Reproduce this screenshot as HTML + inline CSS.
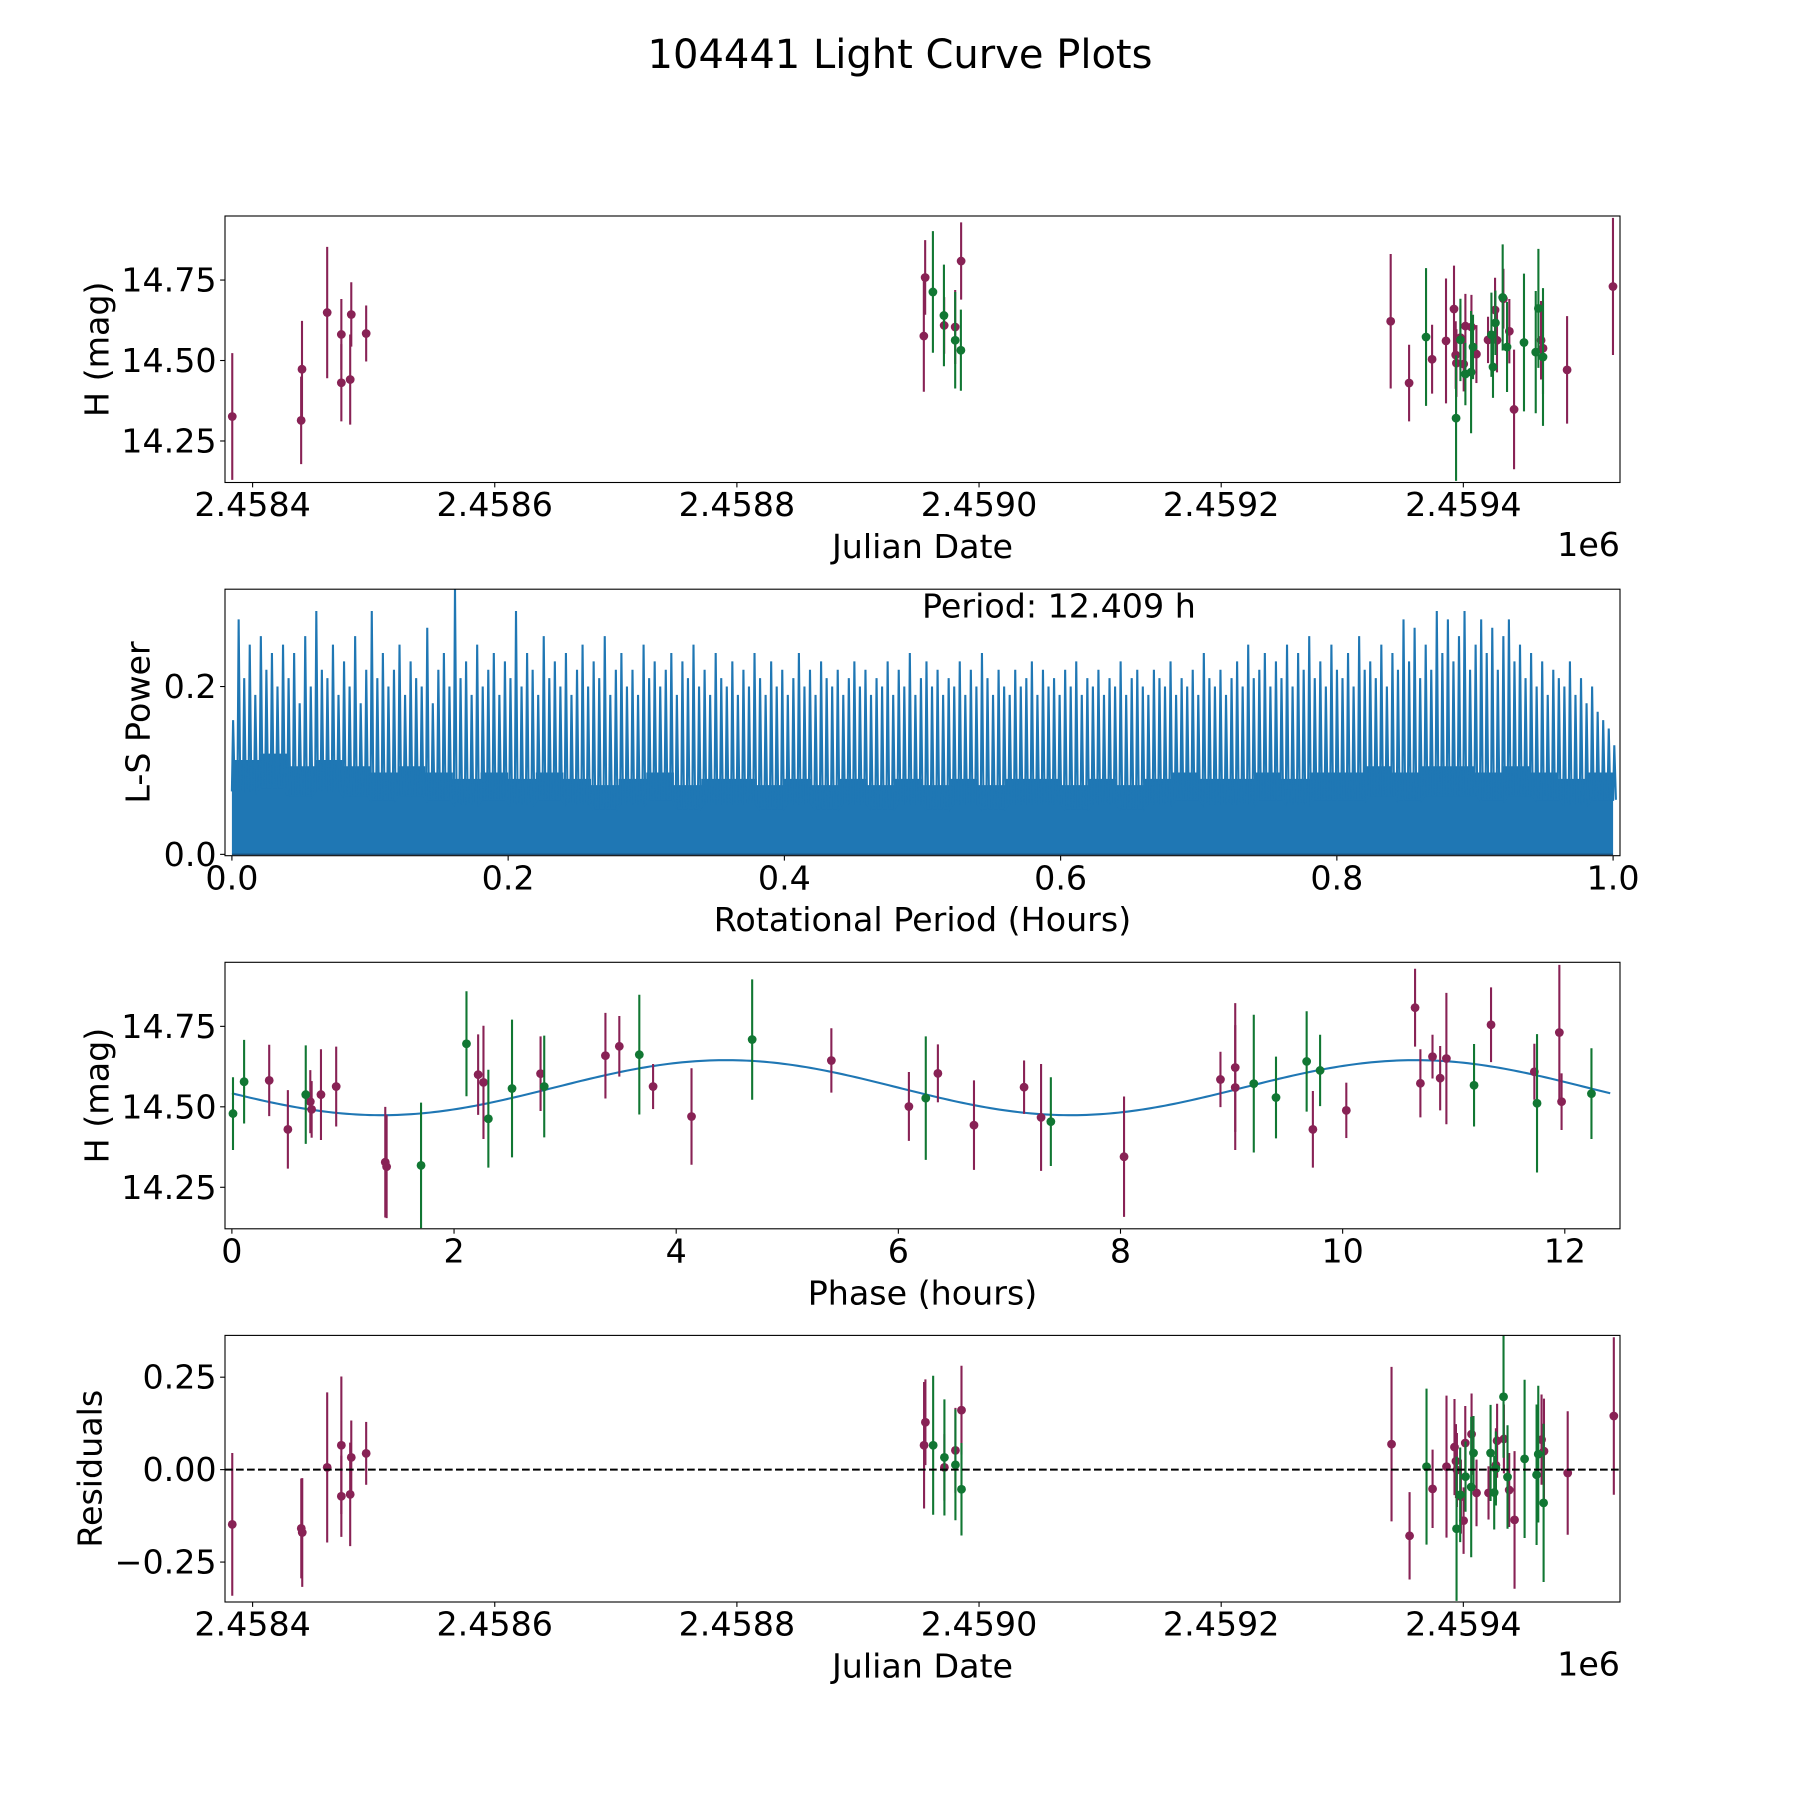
<!DOCTYPE html>
<html><head><meta charset="utf-8"><title>104441 Light Curve Plots</title>
<style>html,body{margin:0;padding:0;background:#fff}svg{display:block}text{font-family:"DejaVu Sans","Liberation Sans",sans-serif;fill:#000}</style>
</head><body>
<svg id="fig" width="1800" height="1800" viewBox="0 0 1800 1800" xmlns="http://www.w3.org/2000/svg">
<rect width="1800" height="1800" fill="#fff"/>
<text x="900" y="55" font-size="40" text-anchor="middle" dominant-baseline="central">104441 Light Curve Plots</text>
</svg>
<script>
// ---- light curve (JD - 2458000) ----
const lcWineJD = [383.2,440.8,440.1,461.6,473.3,473.3,481.5,480.6,493.8,955.5,954.4,971.2,980.3,985.2,1340.0,1355.2,1385.7,1374.2,1392.3,1393.7,1394.3,1397.6,1400.3,1401.7,1406.7,1410.8,1420.4,1426.2,1427.8,1433.1,1438.0,1441.9,1464.2,1465.8,1485.7,1523.6];
const lcWineMag = [14.326,14.473,14.314,14.649,14.581,14.431,14.643,14.441,14.584,14.758,14.576,14.609,14.604,14.809,14.622,14.430,14.561,14.504,14.660,14.517,14.492,14.571,14.489,14.607,14.604,14.520,14.564,14.657,14.563,14.692,14.591,14.348,14.563,14.538,14.471,14.730];
const lcWineErr = [.197,.15,.136,.204,.11,.12,.1,.14,.087,.116,.173,.088,.115,.12,.209,.119,.194,.107,.135,.105,.105,.1,.085,.1,.1,.09,.072,.1,.1,.093,.1,.186,.122,.142,.167,.213];
const lcGreenJD = [961.9,971.0,980.3,985.0,1369.2,1394.0,1397.6,1401.7,1406.4,1408.0,1423.2,1426.5,1424.5,1432.5,1436.1,1450.1,1459.8,1462.0,1465.8];
const lcGreenMag = [14.713,14.640,14.563,14.532,14.573,14.321,14.564,14.458,14.464,14.542,14.580,14.617,14.480,14.696,14.542,14.556,14.526,14.662,14.511];
const lcGreenErr = [.189,.158,.15,.126,.214,.195,.128,.097,.19,.1,.131,.1,.096,.165,.14,.214,.19,.185,.214];
// ---- periodogram ----
const periodSpikes = [.16,.28,.21,.25,.19,.26,.22,.24,.2,.25, .21,.24,.18,.26,.2,.29,.22,.21,.25,.19, .23,.2,.26,.18,.22,.29,.21,.24,.2,.22, .25,.19,.23,.21,.2,.27,.18,.22,.24,.2, .32,.21,.23,.19,.25,.2,.22,.24,.19,.23, .21,.29,.2,.24,.22,.19,.26,.21,.23,.2, .24,.19,.22,.25,.2,.23,.21,.26,.19,.22, .24,.2,.22,.19,.25,.21,.23,.2,.22,.24, .19,.23,.21,.25,.2,.22,.19,.24,.21,.2, .23,.19,.22,.2,.24,.21,.19,.23,.2,.22, .19,.21,.24,.2,.22,.19,.23,.21,.2,.22, .19,.21,.23,.2,.22,.19,.21,.2,.23,.19, .22,.2,.24,.19,.21,.23,.2,.22,.19,.21, .2,.23,.19,.22,.2,.24,.21,.19,.22,.2, .19,.22,.2,.21,.23,.19,.22,.2,.21,.19, .22,.2,.23,.19,.21,.2,.22,.19,.21,.2, .23,.19,.21,.22,.2,.19,.22,.21,.2,.23, .19,.21,.2,.22,.19,.24,.21,.2,.22,.19, .21,.23,.2,.25,.21,.22,.24,.2,.23,.21, .25,.2,.24,.22,.26,.21,.23,.2,.25,.22, .21,.24,.2,.26,.22,.23,.21,.25,.2,.24, .22,.28,.23,.27,.21,.25,.22,.29,.24,.28, .23,.26,.29,.22,.25,.28,.24,.27,.22,.26, .28,.23,.25,.21,.24,.2,.23,.19,.22,.21, .2,.23,.19,.21,.18,.2,.17,.16,.15,.13];
const periodBase = [.15,.16,.14,.15,.14,.13,.14,.13,.12,.13, .12,.13,.12,.11,.12,.13,.11,.12,.12,.11, .12,.11,.12,.11,.12,.11,.12,.11,.12,.12, .11,.12,.11,.12,.13,.12,.12,.13,.12,.13, .13,.14,.13,.14,.14,.13,.14,.13,.12,.13];
const periodRange = [0.0, 1.0];
// ---- phase folded ----
const phWineHr = [.336,.504,.706,.718,.802,.939,1.381,1.393,2.217,2.265,2.779,3.363,3.488,3.792,4.138,5.397,6.095,6.356,6.681,7.132,7.285,8.032,8.9,9.033,9.033,9.732,10.033,10.652,10.70,10.809,10.878,10.934,11.336,11.726,11.951,11.971];
const phWineMag = [14.582,14.430,14.516,14.492,14.538,14.563,14.328,14.314,14.600,14.576,14.603,14.659,14.688,14.563,14.470,14.644,14.501,14.604,14.443,14.561,14.467,14.345,14.585,14.622,14.560,14.430,14.489,14.808,14.573,14.656,14.589,14.650,14.755,14.609,14.731,14.516];
const phWineErr = [.111,.122,.098,.088,.141,.124,.172,.16,.125,.176,.116,.133,.094,.07,.15,.1,.107,.09,.139,.083,.166,.187,.086,.2,.194,.119,.086,.121,.106,.068,.1,.204,.116,.087,.21,.088];
const phGreenHr = [.01,.11,.665,1.703,2.112,2.309,2.522,2.812,3.668,4.684,6.247,7.373,9.2,9.4,9.676,9.797,11.183,11.75,12.24];
const phGreenMag = [14.479,14.578,14.538,14.318,14.696,14.463,14.557,14.563,14.662,14.709,14.527,14.454,14.572,14.529,14.641,14.613,14.567,14.511,14.541];
const phGreenErr = [.113,.13,.153,.195,.163,.152,.214,.158,.186,.187,.192,.138,.214,.127,.156,.111,.128,.215,.141];
const modelMean = 14.5595, modelAmp = 0.0855, modelPeriodHr = 12.409, modelPeakHr = 4.45;
// ---- residuals ----
const rsWineJD = [383.2,440.2,441.0,461.6,473.3,473.3,481.5,480.6,493.8,955.7,954.6,971.4,980.5,985.5,1340.7,1355.6,1374.6,1386.1,1392.7,1393.9,1394.7,1398.0,1400.2,1401.6,1406.8,1410.9,1420.8,1426.9,1427.9,1433.5,1437.9,1442.3,1464.6,1466.6,1486.2,1524.3];
const rsWineVal = [-.148,-.159,-.170,.006,.066,-.072,.033,-.067,.044,.128,.066,.006,.052,.161,.069,-.179,-.052,.008,.061,.023,-.001,-.073,-.138,.072,.096,-.063,-.063,.012,.078,.083,-.055,-.136,.081,.050,-.009,.145];
const rsWineErr = [.193,.135,.147,.203,.186,.11,.1,.14,.085,.116,.171,.09,.115,.12,.209,.118,.106,.192,.13,.1,.1,.1,.09,.1,.11,.09,.072,.1,.1,.093,.1,.186,.122,.142,.167,.213];
const rsGreenJD = [962.1,971.4,980.5,985.5,1369.6,1394.4,1397.4,1401.8,1406.5,1408.4,1422.5,1425.5,1426.9,1433.2,1436.5,1450.6,1460.5,1461.9,1466.3];
const rsGreenVal = [.066,.033,.013,-.053,.008,-.160,-.068,-.019,-.047,.045,.045,-.062,.003,.197,-.020,.029,-.014,.042,-.090];
const rsGreenErr = [.188,.157,.15,.125,.211,.195,.128,.095,.19,.1,.13,.1,.1,.165,.14,.214,.19,.185,.214];
// ---- axis config ----
const jdTicks = [400,600,800,1000,1200,1400];
const jdTickLabels = ["2.4584","2.4586","2.4588","2.4590","2.4592","2.4594"];
const magTicks = [14.25,14.5,14.75];
const magTickLabels = ["14.25","14.50","14.75"];
const perXTicks = [0,0.2,0.4,0.6,0.8,1.0];
const perXTickLabels = ["0.0","0.2","0.4","0.6","0.8","1.0"];
const perYTicks = [0,0.2];
const perYTickLabels = ["0.0","0.2"];
const phTicks = [0,2,4,6,8,10,12];
const phTickLabels = ["0","2","4","6","8","10","12"];
const resTicks = [-0.25,0,0.25];
const resTickLabels = ["\u22120.25","0.00","0.25"];

const NS = "http://www.w3.org/2000/svg";
const svg = document.getElementById('fig');
const WINE = "#882255", GREEN = "#117733", BLUE = "#1f77b4";
function mk(tag, attrs, parent) {
  const e = document.createElementNS(NS, tag);
  for (const k in attrs) e.setAttribute(k, attrs[k]);
  (parent || svg).appendChild(e);
  return e;
}
function makeAxis(name, x0, x1, y0, y1, xlim, ylim) {
  const g = mk('g', {});
  
  
  const cid = 'clip-' + name;
  const cp = mk('clipPath', {id: cid}, g);
  mk('rect', {x: x0, y: y0, width: x1 - x0, height: y1 - y0}, cp);
  const plot = mk('g', {'clip-path': 'url(#' + cid + ')'}, g);
  
  
  return {g, plot, x0, x1, y0, y1,
    sx: v => x0 + (v - xlim[0]) / (xlim[1] - xlim[0]) * (x1 - x0),
    sy: v => y1 - (v - ylim[0]) / (ylim[1] - ylim[0]) * (y1 - y0)};
}
function finishAxis(ax, xt, xtl, yt, ytl, xlabel, ylabel, ylabelX, offsetText) {
  const fr = mk('rect', {x: ax.x0, y: ax.y0, width: ax.x1 - ax.x0, height: ax.y1 - ax.y0, fill: 'none', stroke: '#000', 'stroke-width': 1.1}, ax.g);
  
  
  xt.forEach((v, i) => {
    const x = ax.sx(v);
    mk('line', {x1: x, x2: x, y1: ax.y1, y2: ax.y1 + 4.9, stroke: '#000', 'stroke-width': 1.1}, ax.g);
    const t = mk('text', {x: x, y: ax.y1 + 8.4 + 25.3, 'font-size': 33.3, 'text-anchor': 'middle'}, ax.g);
    
    
    t.textContent = xtl[i];
  });
  yt.forEach((v, i) => {
    const y = ax.sy(v);
    mk('line', {x1: ax.x0 - 4.9, x2: ax.x0, y1: y, y2: y, stroke: '#000', 'stroke-width': 1.1}, ax.g);
    const t = mk('text', {x: ax.x0 - 8.4, y: y, 'font-size': 33.3, 'text-anchor': 'end', 'dominant-baseline': 'central'}, ax.g);
    
    
    t.textContent = ytl[i];
  });
  const xl = mk('text', {x: (ax.x0 + ax.x1) / 2, y: ax.y1 + 64, 'font-size': 33.3, 'text-anchor': 'middle', 'dominant-baseline': 'central'}, ax.g);
  
  
  xl.textContent = xlabel;
  const yc = (ax.y0 + ax.y1) / 2;
  const yl = mk('text', {x: ylabelX, y: yc, 'font-size': 33.3, 'text-anchor': 'middle', 'dominant-baseline': 'central', transform: 'rotate(-90 ' + ylabelX + ' ' + yc + ')'}, ax.g);
  
  
  yl.textContent = ylabel;
  if (offsetText) {
    const o = mk('text', {x: ax.x1, y: ax.y1 + 62, 'font-size': 33.3, 'text-anchor': 'end', 'dominant-baseline': 'central'}, ax.g);
    
    
    o.textContent = offsetText;
  }
}
function errorbars(ax, xs, ys, es, color, name) {
  const g = mk('g', {}, ax.plot);
  
  
  xs.forEach((xv, i) => {
    const x = ax.sx(xv);
    const l = mk('line', {x1: x, x2: x, y1: ax.sy(ys[i] - es[i]), y2: ax.sy(ys[i] + es[i]), stroke: color, 'stroke-width': 2.1}, g);
    
    
  });
  xs.forEach((xv, i) => {
    const c = mk('circle', {cx: ax.sx(xv), cy: ax.sy(ys[i]), r: 4.4, fill: color}, g);
    
    
  });
}

const JDLIM = [377.2, 1529.4], MAGLIM = [14.121, 14.949];
// Panel 1: light curve
const ax1 = makeAxis('light-curve-panel', 225, 1620, 216, 482.5, JDLIM, MAGLIM);
errorbars(ax1, lcWineJD, lcWineMag, lcWineErr, WINE, 'series-wine');
errorbars(ax1, lcGreenJD, lcGreenMag, lcGreenErr, GREEN, 'series-green');
finishAxis(ax1, jdTicks, jdTickLabels, magTicks, magTickLabels, 'Julian Date', 'H (mag)', 97, '1e6');

// Panel 2: periodogram
const ax2 = makeAxis('periodogram-panel', 225, 1620, 589.2, 855.7, [-0.005, 1.005], [-0.0016, 0.316]);
(function () {
  const nb = periodBase.length;
  let d = 'M' + ax2.sx(periodRange[0]) + ',' + ax2.sy(0);
  periodBase.forEach((v, i) => {
    const xa = ax2.sx(periodRange[0] + (periodRange[1] - periodRange[0]) * i / nb);
    const xb = ax2.sx(periodRange[0] + (periodRange[1] - periodRange[0]) * (i + 1) / nb);
    d += ' L' + xa + ',' + ax2.sy(v * 0.75) + ' L' + xb + ',' + ax2.sy(v * 0.75);
  });
  d += ' L' + ax2.sx(periodRange[1]) + ',' + ax2.sy(0) + ' Z';
  const base = mk('path', {d: d, fill: BLUE}, ax2.plot);
  
  
  const ns = periodSpikes.length;
  let z = '';
  periodSpikes.forEach((v, i) => {
    const f = periodRange[0] + (periodRange[1] - periodRange[0]) * i / (ns - 1);
    const x = ax2.sx(f);
    const bi = Math.min(nb - 1, Math.floor(i / ns * nb));
    z += (i ? ' L' : 'M') + x + ',' + ax2.sy(periodBase[bi] * 0.5) + ' L' + (x + 1.2) + ',' + ax2.sy(v) + ' L' + (x + 2.8) + ',' + ax2.sy(periodBase[bi] * 0.5);
  });
  const line = mk('path', {d: z, fill: 'none', stroke: BLUE, 'stroke-width': 2.1, 'stroke-linejoin': 'miter'}, ax2.plot);
  
  
  const bl = mk('line', {x1: ax2.sx(0), x2: ax2.sx(1), y1: ax2.sy(0), y2: ax2.sy(0), stroke: '#1a4f7a', 'stroke-width': 1.5}, ax2.plot);
  
  
})();
finishAxis(ax2, perXTicks, perXTickLabels, perYTicks, perYTickLabels, 'Rotational Period (Hours)', 'L-S Power', 138, null);
const pt = mk('text', {x: 922, y: 606, 'font-size': 33.3, 'dominant-baseline': 'central'}, ax2.g);


pt.textContent = 'Period: 12.409 h';

// Panel 3: phase folded
const ax3 = makeAxis('phase-panel', 225, 1620, 962.3, 1228.8, [-0.062, 12.497], MAGLIM);
(function () {
  let d = '';
  for (let k = 0; k <= 300; k++) {
    const h = modelPeriodHr * k / 300;
    const m = modelMean + modelAmp * Math.cos(2 * Math.PI * (h - modelPeakHr) / (modelPeriodHr / 2));
    d += (k ? ' L' : 'M') + ax3.sx(h).toFixed(2) + ',' + ax3.sy(m).toFixed(2);
  }
  const p = mk('path', {d: d, fill: 'none', stroke: BLUE, 'stroke-width': 2.1}, ax3.plot);
  
  
})();
errorbars(ax3, phWineHr, phWineMag, phWineErr, WINE, 'phase-series-wine');
errorbars(ax3, phGreenHr, phGreenMag, phGreenErr, GREEN, 'phase-series-green');
finishAxis(ax3, phTicks, phTickLabels, magTicks, magTickLabels, 'Phase (hours)', 'H (mag)', 97, null);

// Panel 4: residuals
const ax4 = makeAxis('residuals-panel', 225, 1620, 1335.4, 1602, JDLIM, [-0.358, 0.363]);
errorbars(ax4, rsWineJD, rsWineVal, rsWineErr, WINE, 'residual-series-wine');
errorbars(ax4, rsGreenJD, rsGreenVal, rsGreenErr, GREEN, 'residual-series-green');
const zl = mk('line', {x1: 225, x2: 1620, y1: ax4.sy(0), y2: ax4.sy(0), stroke: '#000', 'stroke-width': 2.1, 'stroke-dasharray': '7.7 3.3'}, ax4.plot);


finishAxis(ax4, jdTicks, jdTickLabels, resTicks, resTickLabels, 'Julian Date', 'Residuals', 90, '1e6');
</script>
</body></html>
